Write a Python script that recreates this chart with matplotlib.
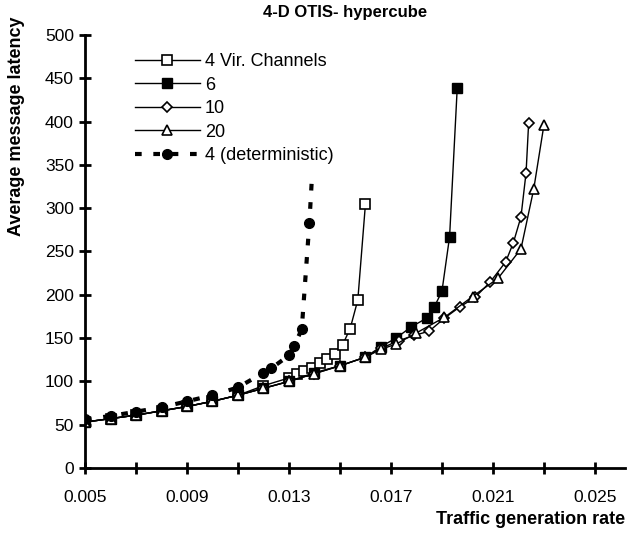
import numpy as np
import matplotlib.pyplot as plt
from matplotlib.ticker import MultipleLocator, FixedLocator

plt.rcParams['font.family'] = ['Liberation Sans', 'DejaVu Sans']

# traffic rates and latencies for each virtual-channel setting
x_base = [0.005, 0.006, 0.007, 0.008, 0.009, 0.010, 0.011, 0.012]
y_base = [53, 57, 61, 66, 71, 77, 84, 92]

x_vc4 = x_base + [0.013, 0.0133, 0.0136, 0.0139, 0.0142, 0.0145, 0.0148, 0.0151, 0.0154, 0.0157, 0.016]
y_vc4 = [53, 57, 61, 66, 71, 77, 84, 95, 104, 108, 112, 116, 121, 126, 132, 142, 161, 194, 305]

x_vc6 = x_base + [0.013, 0.014, 0.015, 0.016, 0.0166, 0.0172, 0.0178, 0.0184, 0.0187, 0.019, 0.0193, 0.0196]
y_vc6 = y_base + [100, 110, 118, 128, 140, 150, 163, 173, 186, 204, 267, 439]

x_vc10 = x_base + [0.013, 0.014, 0.015, 0.016, 0.0166, 0.0173, 0.0179, 0.0185, 0.0191, 0.0197,
                   0.0203, 0.0209, 0.0215, 0.0218, 0.0221, 0.0223, 0.0224]
y_vc10 = y_base + [100, 109, 118, 128, 138, 147, 153, 158, 173, 186, 197, 215, 238, 260, 290, 341, 398]

x_vc20 = x_base + [0.013, 0.014, 0.015, 0.016, 0.0166, 0.0172, 0.018, 0.0191, 0.0202, 0.0212,
                   0.0221, 0.0226, 0.023]
y_vc20 = y_base + [100, 109, 118, 128, 137, 143, 156, 174, 198, 219, 253, 322, 396]

x_det = [0.005, 0.006, 0.007, 0.008, 0.009, 0.010, 0.011, 0.012, 0.0123, 0.013, 0.0132, 0.0135, 0.0138, 0.0139]
y_det = [56, 60, 65, 70, 77, 84, 93, 110, 115, 130, 141, 160, 283, 335]

fig = plt.figure(figsize=(6.27, 5.36), dpi=100)
ax = fig.add_axes([0.1356, 0.1269, 0.862, 0.8078])

ax.plot(x_vc4, y_vc4, color='black', lw=1, marker='s', ms=6.5, mfc='white', mec='black', mew=1.2,
        label='4 Vir. Channels')
ax.plot(x_vc6, y_vc6, color='black', lw=1, marker='s', ms=7, mfc='black', mec='black',
        label='6')
ax.plot(x_vc10, y_vc10, color='black', lw=1, marker='D', ms=5.5, mfc='white', mec='black', mew=1.2,
        label='10')
ax.plot(x_vc20, y_vc20, color='black', lw=1, marker='^', ms=7.5, mfc='white', mec='black', mew=1.2,
        label='20')
ax.plot(x_det, y_det, color='black', lw=3, ls=(0, (1.6, 2.8)), marker='o', ms=7, mfc='black', mec='black',
        markevery=list(range(len(x_det) - 1)), label='4 (deterministic)')

ax.set_xlim(0.005, 0.0262)
ax.set_ylim(0, 500)

ax.xaxis.set_major_locator(FixedLocator([0.005, 0.009, 0.013, 0.017, 0.021, 0.025]))
ax.xaxis.set_minor_locator(FixedLocator([0.007, 0.011, 0.015, 0.019, 0.023]))
ax.xaxis.set_major_formatter(plt.FuncFormatter(lambda v, p: '%.3f' % v))
ax.yaxis.set_major_locator(MultipleLocator(50))

for s in ['top', 'right']:
    ax.spines[s].set_visible(False)
for s in ['left', 'bottom']:
    ax.spines[s].set_linewidth(2)
    ax.spines[s].set_zorder(5)

ax.tick_params(axis='both', which='both', direction='inout', length=8, width=2, labelsize=12.5)
ax.tick_params(axis='x', which='major', pad=12)
ax.tick_params(axis='y', which='major', pad=4)

fig.text(0.55, 0.976, '4-D OTIS- hypercube', ha='center', va='center', fontsize=12, fontweight='bold')
fig.text(0.997, 0.03, 'Traffic generation rate', ha='right', va='center', fontsize=13, fontweight='bold')
fig.text(0.027, 0.765, 'Average message latency', ha='center', va='center', rotation=90,
         fontsize=13, fontweight='bold')

ax.legend(loc='upper left', bbox_to_anchor=(0.079, 0.975), frameon=False, fontsize=13,
          handlelength=3.6, handletextpad=0.28, labelspacing=0.36, borderaxespad=0)

fig.savefig('out.png', dpi=100)
